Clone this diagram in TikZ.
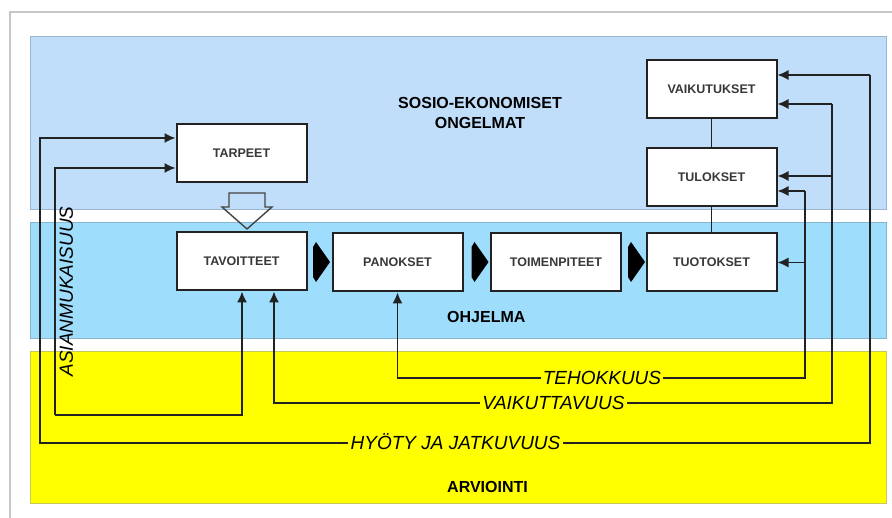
\documentclass[tikz,border=0pt]{standalone}
\usepackage{fontspec}
\setmainfont{Liberation Sans}
\usetikzlibrary{arrows.meta,calc}
\definecolor{bandA}{HTML}{C0DEFA}
\definecolor{bandB}{HTML}{9FDDFC}
\definecolor{bandC}{HTML}{FFFF00}
\definecolor{edgeA}{HTML}{9DB6D0}
\definecolor{edgeB}{HTML}{86B6CE}
\definecolor{edgeC}{HTML}{C8C85A}
\definecolor{ink}{HTML}{222222}
\begin{document}
\begin{tikzpicture}[x=1pt,y=-1pt,
  box/.style={draw=ink, line width=2pt, fill=white, minimum width=130pt, minimum height=58pt,
    inner sep=0pt, font=\bfseries\fontsize{12.5}{14}\selectfont, text=ink!90},
  conn/.style={draw=ink, line width=1.5pt},
  arr/.style={conn, -{Latex[length=11pt,width=10pt]}},
  evl/.style={font=\itshape\fontsize{19}{22}\selectfont, text=black, inner xsep=2pt, inner ysep=0pt,
    text height=13.6pt, text depth=0pt},
  title/.style={font=\bfseries\fontsize{16}{20}\selectfont, text=black, inner sep=0pt},
  chev/.pic={\fill[black] (-8.5,-15) -- (-5.5,-20) -- (8.5,0) -- (-5.5,20) -- (-8.5,15) -- cycle;}
]
\useasboundingbox (0,0) rectangle (892,518);
\fill[white] (0,0) rectangle (892,518);
% frame
\draw[black!22, line width=2pt] (10,518) -- (10,12) -- (892,12);
% bands
\filldraw[fill=bandA, draw=edgeA, line width=1pt] (30,37) rectangle (886,210);
\filldraw[fill=bandB, draw=edgeB, line width=1pt] (30,223) rectangle (886,339);
\filldraw[fill=bandC, draw=edgeC, line width=1pt] (30,352) rectangle (886,503);
% titles
\node[title, align=center] (sosio) at (480,113) {SOSIO-EKONOMISET\\ONGELMAT};
\node[title, anchor=west, text height=11.5pt, text depth=0pt] (ohj) at (447,317) {OHJELMA};
\node[title, anchor=west, text height=11.5pt, text depth=0pt] (arv) at (447,487) {ARVIOINTI};
% boxes
\node[box] (tarpeet) at (241.5,153.5) {TARPEET};
\node[box] (tavoitteet) at (241.5,261.5) {TAVOITTEET};
\node[box] (panokset) at (397.5,262.5) {PANOKSET};
\node[box] (toimenpiteet) at (556,262.5) {TOIMENPITEET};
\node[box] (tuotokset) at (711.5,262.5) {TUOTOKSET};
\node[box] (vaikutukset) at (711.5,89) {VAIKUTUKSET};
\node[box] (tulokset) at (711.5,177) {TULOKSET};
% vertical links
\draw[conn] (vaikutukset) -- (tulokset);
\draw[conn] (tulokset) -- (tuotokset);
% hollow arrow
\draw[ink!85, line width=1.4pt, line join=miter] (229,193) -- (265,193) -- (265,207) -- (272,207) -- (247,229) -- (222,207) -- (229,207) -- cycle;
% black chevrons
\pic at (321.5,262) {chev};
\pic at (480,262) {chev};
\pic at (636.5,262) {chev};
% evaluation labels
\node[evl] (hyoty) at (455.5,443) {HYÖTY JA JATKUVUUS};
\node[evl] (vaik) at (553.5,403) {VAIKUTTAVUUS};
\node[evl] (teh) at (602,378) {TEHOKKUUS};
\node[evl, rotate=90, inner sep=0pt] (asian) at (66,291.5) {ASIANMUKAISUUS};
% HYOTY JA JATKUVUUS loop
\coordinate (h1) at (870,75);
\coordinate (h2) at (870,443);
\coordinate (h3) at (40,443);
\coordinate (h4) at (40,138);
\draw[arr] (h1) -- (vaikutukset.east |- h1);
\draw[conn] (h1) -- (h2) -- (hyoty.east);
\draw[arr] (hyoty.west) -- (h3) -- (h4) -- (tarpeet.west |- h4);
% VAIKUTTAVUUS loop
\coordinate (v1) at (832,104);
\coordinate (v2) at (832,403);
\coordinate (v3) at (274,403);
\coordinate (v4) at (832,176);
\draw[arr] (v1) -- (vaikutukset.east |- v1);
\draw[arr] (v4) -- (tulokset.east |- v4);
\draw[conn] (v1) -- (v2) -- (vaik.east);
\draw[arr] (vaik.west) -- (v3) -- (v3 |- tavoitteet.south);
% TEHOKKUUS loop
\coordinate (t1) at (805,191);
\coordinate (t2) at (805,378);
\coordinate (t3) at (panokset.south |- t2);
\draw[arr] (t1) -- (tulokset.east |- t1);
\draw[arr] (t1 |- tuotokset.east) -- (tuotokset.east);
\draw[conn] (t1) -- (t2) -- (teh.east);
\draw[arr] (teh.west) -- (t3) -- (panokset.south);
% ASIANMUKAISUUS loop
\coordinate (a1) at (242,415);
\coordinate (a2) at (55,415);
\coordinate (a3) at (55,168);
\draw[arr] (a2) -- (a3) -- (tarpeet.west |- a3);
\draw[arr] (a2) -- (a1) -- (a1 |- tavoitteet.south);
\end{tikzpicture}
\end{document}
